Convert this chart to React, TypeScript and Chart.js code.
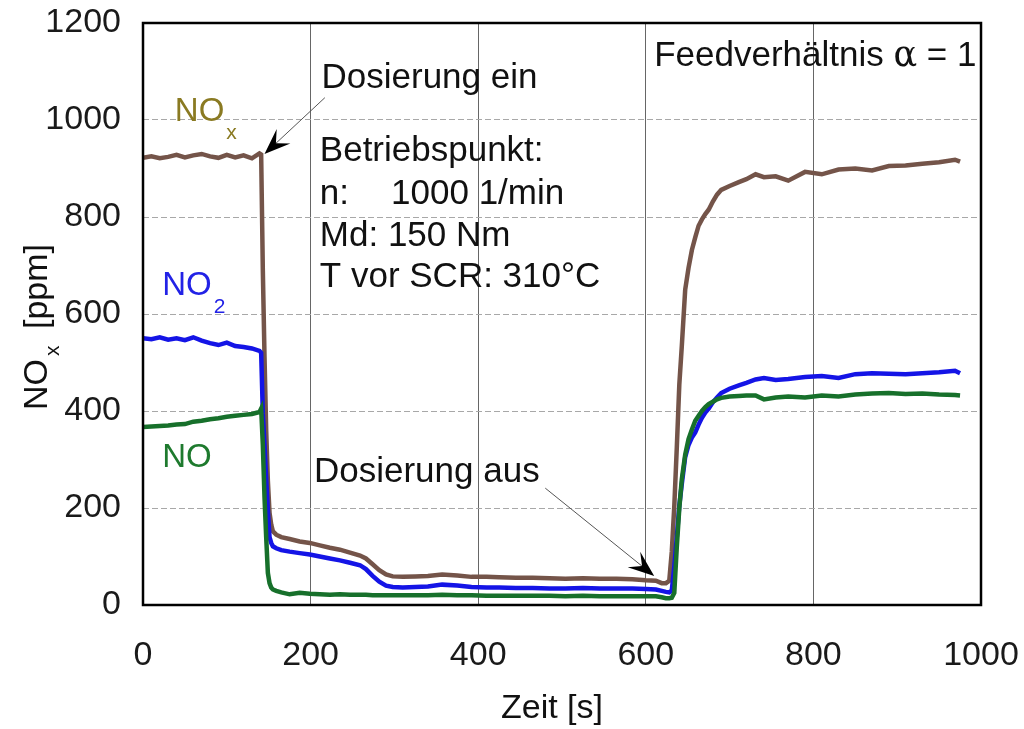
import React, { useEffect, useRef } from "react";
import { Chart, registerables } from "chart.js";

Chart.register(...registerables);

// ---- data (time in s, concentrations in ppm) ----
const timeS = [
  0, 10, 20, 30, 40, 50, 60, 70, 80, 90, 100, 110, 120, 130,
  139, 141, 143, 145, 147, 149, 151, 153, 155, 159,
  165, 175, 187, 199, 211, 223, 235, 247, 259,
  266, 274, 282, 290, 298,
  310, 325, 340, 357, 375, 392, 410, 425, 445, 465, 485, 504, 525, 545, 565, 584, 600,
  612, 619, 624, 628, 631, 634, 637, 640, 643, 647, 651, 655, 659, 663, 667, 671, 675, 680, 685, 690,
  700, 711, 720, 731, 741, 755, 770, 790, 810, 830, 850, 870, 890, 910, 930, 950, 969, 975,
];

const noxPpm = [
  922, 925, 921, 924, 928, 923, 927, 930, 925, 922, 928, 923, 927, 921,
  931, 929, 690, 512, 360, 256, 190, 166, 152, 145,
  140, 136, 131, 128, 123, 118, 114, 108, 102,
  96, 84, 72, 63, 59,
  58, 59, 60, 63, 61, 58, 58, 57, 56, 56, 55, 54, 55, 54, 54, 53, 51,
  50, 45, 45, 50, 110, 204, 325, 455, 535, 650, 695, 732, 758, 782, 795, 806, 815, 832, 846, 856,
  864, 872, 878, 888, 882, 884, 875, 893, 888, 898, 900, 896, 905, 906, 910, 913, 918, 914,
];

const no2Ppm = [
  550, 548, 552, 547, 550, 546, 552, 545, 540, 536, 541, 534, 532, 529,
  524, 520, 395, 330, 260, 195, 140, 128, 121, 117,
  113, 110, 107, 104, 100, 96, 92, 87, 82,
  74, 60, 48, 40, 37,
  36, 37, 38, 42, 40, 37, 36, 36, 35, 35, 34, 34, 35, 34, 34, 34, 33,
  32, 29, 27, 26, 30, 80, 140, 205, 250, 305, 330, 345, 356, 372, 386, 397, 405, 418, 428, 437,
  446, 453, 458, 465, 468, 464, 466, 470, 472, 468, 476, 478, 477, 476, 478, 480, 483, 478,
];

const noPpm = [
  367, 368, 369, 370, 372, 373, 378, 380, 383, 385, 388, 390, 392, 394,
  398, 405, 330, 222, 140, 66, 45, 36, 32, 29,
  26, 22, 25, 23, 22, 21, 22, 21, 21,
  21, 20, 20, 20, 20,
  20, 20, 20, 21, 20, 20, 19, 19, 19, 19, 19, 18, 19, 18, 18, 18, 18,
  18, 16, 14, 14, 15, 25, 120, 200, 260, 310, 342, 362, 380, 390, 400, 408, 414, 419, 424, 427,
  430, 431, 432, 432, 424, 428, 430, 428, 432, 430, 434, 436, 437, 435, 436, 434, 433, 432,
];

const xTickValues = [0, 200, 400, 600, 800, 1000];
const yTickValues = [0, 200, 400, 600, 800, 1000, 1200];

const infoLines = ["Betriebspunkt:", "n:", "Md: 150 Nm", "T vor SCR: 310°C"];
const infoSpeed = "1000 1/min";

const FONT = "'Liberation Sans', Arial, Helvetica, sans-serif";

export default function App() {
  const canvasRef = useRef<HTMLCanvasElement | null>(null);

  useEffect(() => {
    const canvas = canvasRef.current;
    if (!canvas) return;
    const ctx = canvas.getContext("2d");
    if (!ctx) return;

    const pts = (vals: number[]) => timeS.map((t, i) => ({ x: t, y: vals[i] }));

    const arrow = (c: CanvasRenderingContext2D, x0: number, y0: number, x1: number, y1: number) => {
      const dx = x1 - x0;
      const dy = y1 - y0;
      const len = Math.hypot(dx, dy);
      const ux = dx / len;
      const uy = dy / len;
      const nx = -uy;
      const ny = ux;
      const L = 26;
      const W = 10;
      c.save();
      c.strokeStyle = "#555";
      c.lineWidth = 1;
      c.beginPath();
      c.moveTo(x0, y0);
      c.lineTo(x1 - ux * L * 0.6, y1 - uy * L * 0.6);
      c.stroke();
      c.fillStyle = "#000";
      c.beginPath();
      c.moveTo(x1, y1);
      c.lineTo(x1 - ux * L + nx * W, y1 - uy * L + ny * W);
      c.lineTo(x1 - ux * L * 0.6, y1 - uy * L * 0.6);
      c.lineTo(x1 - ux * L - nx * W, y1 - uy * L - ny * W);
      c.closePath();
      c.fill();
      c.restore();
    };

    const withSub = (
      c: CanvasRenderingContext2D,
      main: string,
      sub: string,
      x: number,
      y: number,
      color: string
    ) => {
      c.fillStyle = color;
      c.font = `33px ${FONT}`;
      c.fillText(main, x, y);
      const w = c.measureText(main).width;
      c.font = `21px ${FONT}`;
      c.fillText(sub, x + w + 2, y + 18);
    };

    const annotations = {
      id: "annotations",
      afterDraw(chart: any) {
        const c: CanvasRenderingContext2D = chart.ctx;
        const xs = chart.scales.x;
        const ys = chart.scales.y;
        const px = (v: number) => xs.getPixelForValue(v);
        const py = (v: number) => ys.getPixelForValue(v);
        const area = chart.chartArea;

        c.save();
        // frame
        c.strokeStyle = "#000";
        c.lineWidth = 2.5;
        c.strokeRect(area.left, area.top, area.right - area.left, area.bottom - area.top);

        c.textAlign = "left";
        c.textBaseline = "alphabetic";

        // series labels
        withSub(c, "NO", "x", px(38), py(998), "#8a7a22");
        withSub(c, "NO", "2", px(23), py(640), "#2222e6");
        c.fillStyle = "#1e7a2e";
        c.font = `33px ${FONT}`;
        c.fillText("NO", px(23), py(284));

        // texts
        c.fillStyle = "#111";
        c.font = `35px ${FONT}`;
        c.fillText("Dosierung ein", px(213), py(1066));
        c.fillText("Dosierung aus", px(204), py(253));
        const infoY = [916, 827, 741, 655];
        infoLines.forEach((t, i) => c.fillText(t, px(211), py(infoY[i])));
        c.fillText(infoSpeed, px(296), py(827));

        // Feedverhältnis α = 1
        let fx = px(610);
        const fy = py(1112);
        const p1 = "Feedverhältnis ";
        c.fillText(p1, fx, fy);
        fx += c.measureText(p1).width;
        c.font = `35px 'DejaVu Serif', serif`;
        c.fillText("α", fx, fy);
        fx += c.measureText("α").width;
        c.font = `35px ${FONT}`;
        c.fillText(" = 1", fx, fy);

        // arrows
        arrow(c, px(217), py(1046), px(145), py(930));
        arrow(c, px(480), py(241), px(610), py(60));

        // axis titles
        c.fillStyle = "#111";
        c.font = `34px ${FONT}`;
        c.textAlign = "center";
        c.fillText("Zeit [s]", 552, 718);

        c.save();
        c.translate(47, 410);
        c.rotate(-Math.PI / 2);
        c.textAlign = "left";
        c.font = `34px ${FONT}`;
        c.fillText("NO", 0, 0);
        const w = c.measureText("NO").width;
        c.font = `21px ${FONT}`;
        c.fillText("x", w + 3, 12);
        const wx = c.measureText("x").width;
        c.font = `34px ${FONT}`;
        c.fillText(" [ppm]", w + wx + 10, 0);
        c.restore();

        c.restore();
      },
    };

    const chart = new Chart(ctx, {
      type: "line",
      data: {
        datasets: [
          {
            label: "NO",
            data: pts(noPpm),
            borderColor: "#17702b",
            borderWidth: 4.5,
            pointRadius: 0,
            tension: 0,
            order: 0,
          },
          {
            label: "NO2",
            data: pts(no2Ppm),
            borderColor: "#1414e6",
            borderWidth: 4.5,
            pointRadius: 0,
            tension: 0,
            order: 1,
          },
          {
            label: "NOx",
            data: pts(noxPpm),
            borderColor: "#745449",
            borderWidth: 4.5,
            pointRadius: 0,
            tension: 0,
            order: 2,
          },
        ],
      },
      options: {
        animation: false,
        responsive: false,
        events: [],
        layout: { padding: { top: 23, right: 43, left: 0, bottom: 0 } },
        plugins: {
          legend: { display: false },
          tooltip: { enabled: false },
        },
        scales: {
          x: {
            type: "linear",
            min: 0,
            max: 1000,
            afterBuildTicks: (s: any) => {
              s.ticks = xTickValues.map((v) => ({ value: v }));
            },
            afterFit: (s: any) => {
              s.height = 124;
              s.paddingLeft = 0;
              s.paddingRight = 0;
            },
            grid: { color: "#666", lineWidth: 1, drawTicks: false },
            border: { display: false },
            ticks: {
              font: { family: FONT, size: 34 },
              color: "#1a1a1a",
              padding: 30,
              maxRotation: 0,
              autoSkip: false,
              callback: (v: any) => String(v),
            },
          },
          y: {
            type: "linear",
            min: 0,
            max: 1200,
            afterBuildTicks: (s: any) => {
              s.ticks = yTickValues.map((v) => ({ value: v }));
            },
            afterFit: (s: any) => {
              s.width = 143;
              s.paddingTop = 0;
              s.paddingBottom = 0;
            },
            grid: { color: "#a8a8a8", lineWidth: 1, drawTicks: false },
            border: { display: false, dash: [6, 3] },
            ticks: {
              font: { family: FONT, size: 34 },
              color: "#1a1a1a",
              padding: 22,
              autoSkip: false,
              callback: (v: any) => String(v),
            },
          },
        },
      },
      plugins: [annotations],
    });

    return () => chart.destroy();
  }, []);

  return (
    <div
      style={{
        position: "absolute",
        left: 0,
        top: 0,
        width: 1024,
        height: 729,
        background: "#fff",
      }}
    >
      <canvas
        ref={canvasRef}
        width={1024}
        height={729}
        style={{ display: "block", width: 1024, height: 729 }}
      />
    </div>
  );
}
